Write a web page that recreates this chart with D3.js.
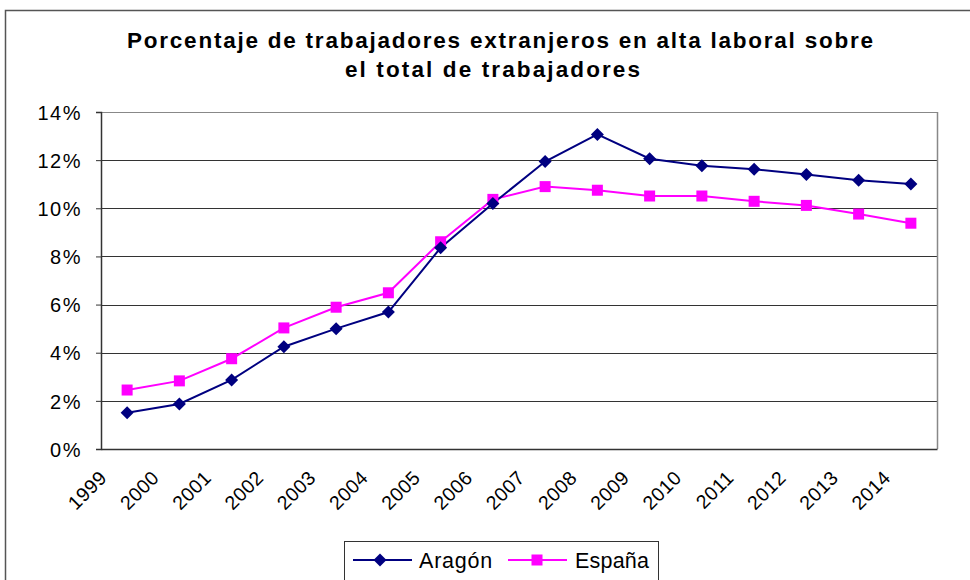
<!DOCTYPE html>
<html><head><meta charset="utf-8">
<script src="https://cdn.jsdelivr.net/npm/d3@7"></script>
<style>body{margin:0;background:#fff}svg{display:block}text{font-family:"Liberation Sans",Arial,sans-serif}</style>
</head><body><svg id="c" width="970" height="580"></svg>
<script>
const years = ["1999","2000","2001","2002","2003","2004","2005","2006","2007","2008","2009","2010","2011","2012","2013","2014"];
const aragon = [1.51,1.87,2.87,4.25,5.0,5.69,8.36,10.2,11.94,13.07,12.06,11.77,11.62,11.40,11.16,11.01];
const espana = [2.45,2.83,3.75,5.03,5.89,6.49,8.61,10.37,10.9,10.75,10.51,10.51,10.29,10.12,9.76,9.38];
const yTicks = [0,2,4,6,8,10,12,14];
const titleLines = ["Porcentaje de trabajadores extranjeros en alta laboral sobre","el total de trabajadores"];
const seriesNames = ["Aragón","España"];

const svg = d3.select("#c");
const L=101,R=937,T=112,B=449;
svg.append("rect").attr("x",5.5).attr("y",10.5).attr("width",980).attr("height",600)
  .attr("fill","#fff").attr("stroke","#555").attr("stroke-width",1.5);

const x = d3.scaleBand().domain(years).range([L,R]);
const y = d3.scaleLinear().domain([0,14]).range([B,T]);

// title
const tl = [{x:127,w:746},{x:345,w:295}];
svg.append("g").selectAll("text").data(titleLines).join("text")
  .attr("x",(d,i)=>tl[i].x).attr("y",(d,i)=>48+i*29)
  .attr("textLength",(d,i)=>tl[i].w).attr("lengthAdjust","spacing")
  .attr("font-weight","bold").attr("font-size",22.5).attr("fill","#000").text(d=>d);

// grid
svg.append("g").selectAll("line").data(yTicks.filter(d=>d>0)).join("line")
  .attr("x1",L).attr("x2",R).attr("y1",d=>Math.round(y(d))+0.5).attr("y2",d=>Math.round(y(d))+0.5)
  .attr("stroke",d=>d===14?"#888":"#333").attr("stroke-width",1);
svg.append("line").attr("x1",R+0.5).attr("x2",R+0.5).attr("y1",T).attr("y2",B).attr("stroke","#888").attr("stroke-width",1.5);

// y axis
const ya = svg.append("g").attr("transform",`translate(${L},0)`)
  .call(d3.axisLeft(y).tickValues(yTicks).tickSize(5).tickPadding(14).tickFormat(d=>d+"%"));
ya.select(".domain").attr("stroke","#333").attr("stroke-width",1.5);
ya.selectAll(".tick line").attr("stroke","#333");
ya.selectAll("text").attr("font-size",20).attr("letter-spacing",1.5).attr("fill","#000")
  .attr("font-family","Liberation Sans,Arial,sans-serif").attr("dy","0.36em");

// x axis
const xa = svg.append("g").attr("transform",`translate(0,${B})`)
  .call(d3.axisBottom(x).tickSize(0).tickFormat(""));
xa.select(".domain").attr("stroke","#333").attr("stroke-width",1.5);
svg.append("g").selectAll("text").data(years).join("text")
  .attr("transform",d=>`translate(${x(d)+x.bandwidth()/2-19},${B+30}) rotate(-45)`)
  .attr("text-anchor","end").attr("font-size",19.5).attr("letter-spacing",0.5).attr("fill","#000").text(d=>d);

// lines
const cx = i=>x(years[i])+x.bandwidth()/2;
const line = d3.line().x((d,i)=>cx(i)).y(d=>y(d));
svg.append("path").datum(espana).attr("d",line).attr("fill","none").attr("stroke","#FF00FF").attr("stroke-width",2);
svg.append("path").datum(aragon).attr("d",line).attr("fill","none").attr("stroke","#000080").attr("stroke-width",2);
svg.append("g").selectAll("rect").data(espana).join("rect")
  .attr("x",(d,i)=>cx(i)-5.5).attr("y",d=>y(d)-5.5).attr("width",11).attr("height",11).attr("fill","#FF00FF");
svg.append("g").selectAll("path").data(aragon).join("path")
  .attr("d",(d,i)=>{const X=cx(i),Y=y(d),r=6.5;return `M${X},${Y-r}L${X+r},${Y}L${X},${Y+r}L${X-r},${Y}Z`;})
  .attr("fill","#000080");

// legend
const lg = svg.append("g");
lg.append("rect").attr("x",344.5).attr("y",541.5).attr("width",314).attr("height",40).attr("fill","#fff").attr("stroke","#333");
const ly=560;
lg.append("line").attr("x1",353).attr("x2",412).attr("y1",ly).attr("y2",ly).attr("stroke","#000080").attr("stroke-width",2);
lg.append("path").attr("d",`M380,${ly-6.5}L386.5,${ly}L380,${ly+6.5}L373.5,${ly}Z`).attr("fill","#000080");
lg.append("text").attr("x",419).attr("y",ly+7.5).attr("font-size",21.5).attr("letter-spacing",0.8).text(seriesNames[0]);
lg.append("line").attr("x1",508).attr("x2",567).attr("y1",ly).attr("y2",ly).attr("stroke","#FF00FF").attr("stroke-width",2);
lg.append("rect").attr("x",537-5.5).attr("y",ly-5.5).attr("width",11).attr("height",11).attr("fill","#FF00FF");
lg.append("text").attr("x",575).attr("y",ly+7.5).attr("font-size",21.5).attr("letter-spacing",0.2).text(seriesNames[1]);
</script></body></html>
